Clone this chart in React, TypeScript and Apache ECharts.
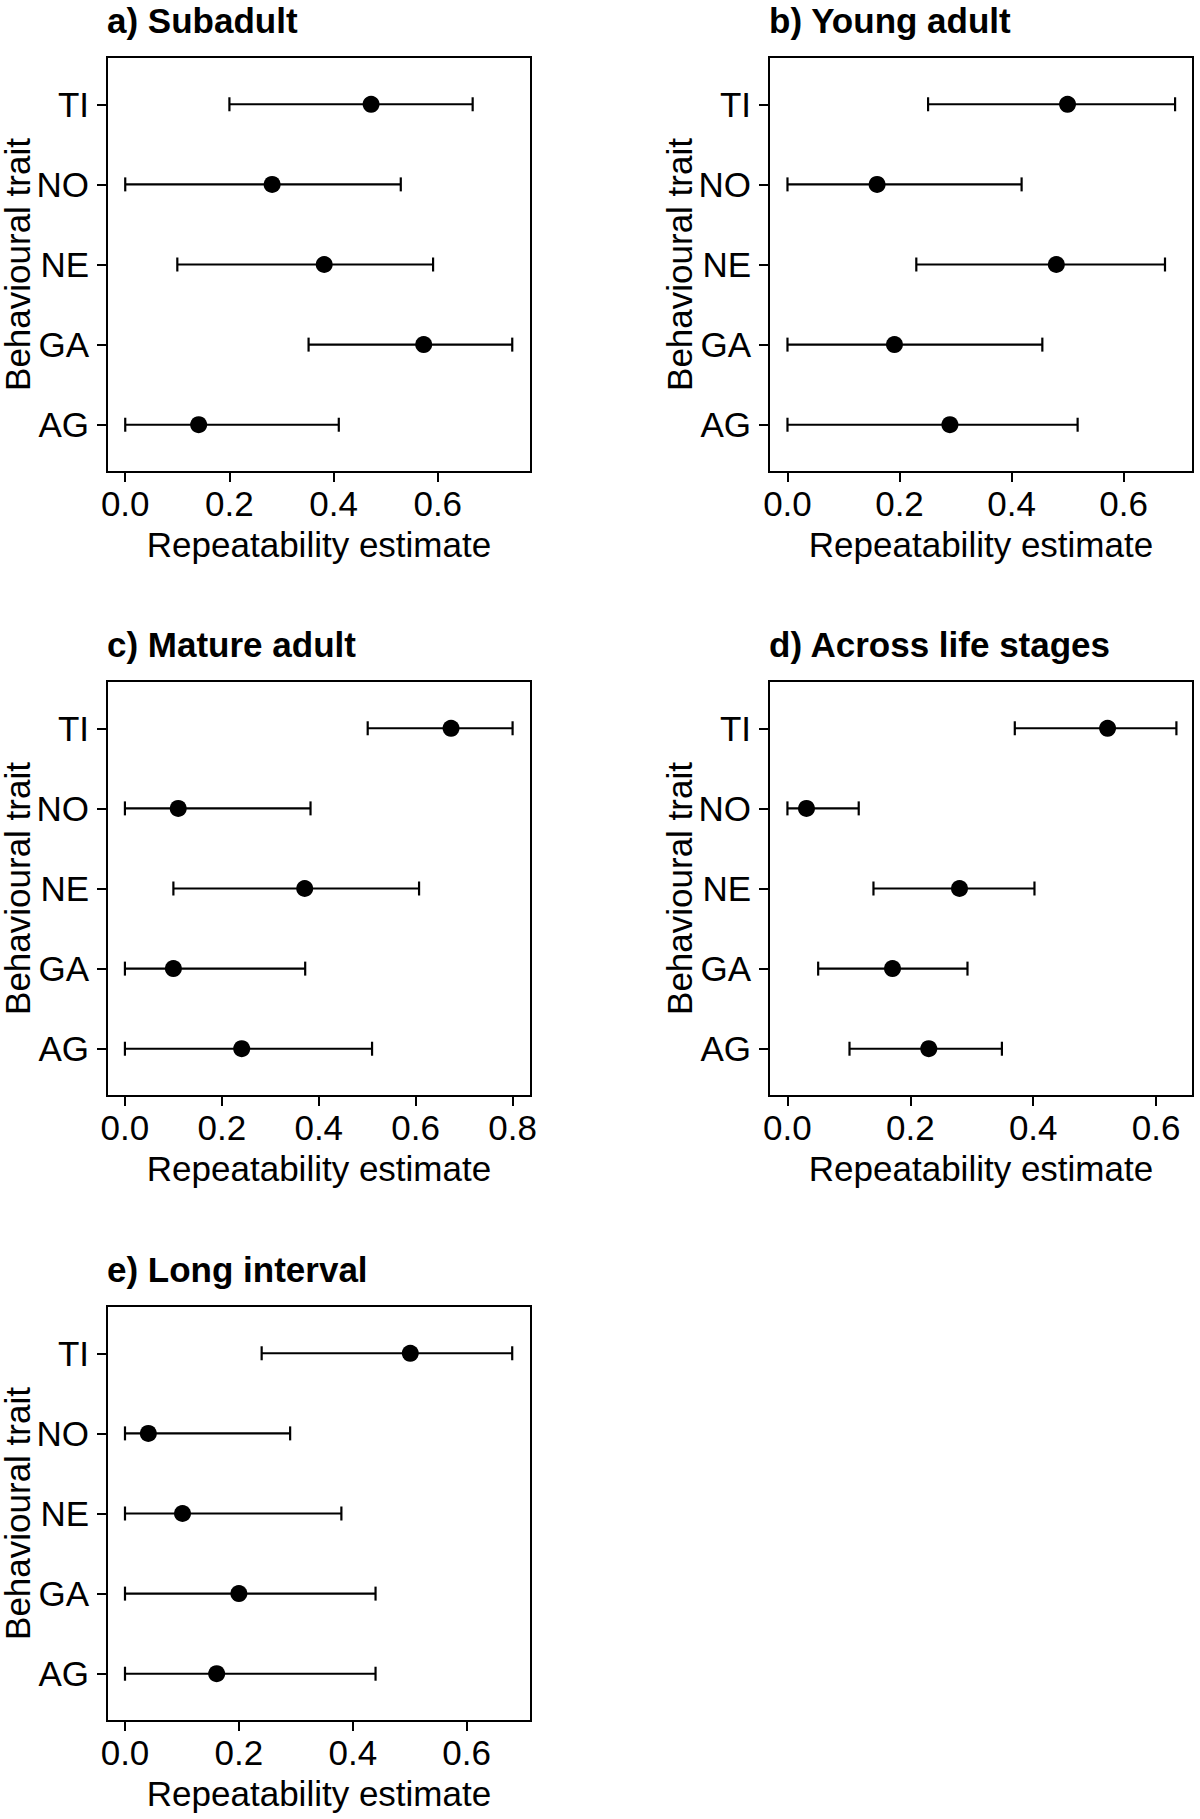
import React, { useEffect, useRef } from "react";
import * as echarts from "echarts";

// Traits from bottom (row 1) to top (row 5)
const TRAITS = ["AG", "GA", "NE", "NO", "TI"];
const TRAIT_ROWS = [1, 2, 3, 4, 5];

const PANEL_TITLES = [
  "a) Subadult",
  "b) Young adult",
  "c) Mature adult",
  "d) Across life stages",
  "e) Long interval",
];

// Repeatability estimates and 95% CI bounds, order = TRAITS
const SUBADULT_EST = [0.141, 0.573, 0.382, 0.282, 0.472];
const SUBADULT_LOW = [0.0, 0.352, 0.1, 0.0, 0.2];
const SUBADULT_HIGH = [0.41, 0.743, 0.591, 0.529, 0.667];

const YOUNG_EST = [0.29, 0.191, 0.48, 0.16, 0.5];
const YOUNG_LOW = [0.0, 0.0, 0.23, 0.0, 0.251];
const YOUNG_HIGH = [0.518, 0.455, 0.674, 0.418, 0.692];

const MATURE_EST = [0.241, 0.1, 0.371, 0.11, 0.673];
const MATURE_LOW = [0.0, 0.0, 0.1, 0.0, 0.501];
const MATURE_HIGH = [0.51, 0.372, 0.607, 0.383, 0.8];

const ACROSS_EST = [0.23, 0.171, 0.28, 0.031, 0.521];
const ACROSS_LOW = [0.101, 0.05, 0.14, 0.0, 0.37];
const ACROSS_HIGH = [0.349, 0.293, 0.402, 0.116, 0.633];

const LONG_EST = [0.161, 0.2, 0.101, 0.041, 0.501];
const LONG_LOW = [0.0, 0.0, 0.0, 0.0, 0.24];
const LONG_HIGH = [0.44, 0.44, 0.38, 0.29, 0.68];

const X_TICKS_06 = [0, 0.2, 0.4, 0.6];
const X_TICKS_08 = [0, 0.2, 0.4, 0.6, 0.8];

const X_TITLE = "Repeatability estimate";
const Y_TITLE = "Behavioural trait";

const FONT = "'Liberation Sans', Arial, Helvetica, sans-serif";

const PANELS = [
  { title: PANEL_TITLES[0], est: SUBADULT_EST, low: SUBADULT_LOW, high: SUBADULT_HIGH, ticks: X_TICKS_06, xMin: -0.035, xMax: 0.779, left: 107, top: 57 },
  { title: PANEL_TITLES[1], est: YOUNG_EST, low: YOUNG_LOW, high: YOUNG_HIGH, ticks: X_TICKS_06, xMin: -0.033, xMax: 0.724, left: 769, top: 57 },
  { title: PANEL_TITLES[2], est: MATURE_EST, low: MATURE_LOW, high: MATURE_HIGH, ticks: X_TICKS_08, xMin: -0.037, xMax: 0.838, left: 107, top: 681 },
  { title: PANEL_TITLES[3], est: ACROSS_EST, low: ACROSS_LOW, high: ACROSS_HIGH, ticks: X_TICKS_06, xMin: -0.030, xMax: 0.660, left: 769, top: 681 },
  { title: PANEL_TITLES[4], est: LONG_EST, low: LONG_LOW, high: LONG_HIGH, ticks: X_TICKS_06, xMin: -0.0316, xMax: 0.713, left: 107, top: 1306 },
];

const PW = 424;
const PH = 415;

function buildOption() {
  const title: any[] = [];
  const grid: any[] = [];
  const xAxis: any[] = [];
  const yAxis: any[] = [];
  const series: any[] = [];

  PANELS.forEach((p, i) => {
    title.push({
      text: p.title,
      left: p.left,
      top: p.top - 54,
      padding: 0,
      textStyle: { fontSize: 35, fontWeight: "bold", fontFamily: FONT, color: "#000" },
    });
    grid.push({
      left: p.left,
      top: p.top,
      width: PW,
      height: PH,
      show: true,
      borderColor: "#000",
      borderWidth: 2,
      backgroundColor: "transparent",
      containLabel: false,
      outerBoundsMode: "none",
    });
    xAxis.push({
      type: "value",
      gridIndex: i,
      min: p.xMin,
      max: p.xMax,
      axisLine: { show: false, onZero: false },
      splitLine: { show: false },
      axisTick: {
        show: true,
        inside: false,
        length: 10,
        lineStyle: { color: "#000", width: 2 },
        customValues: p.ticks,
      },
      axisLabel: {
        customValues: p.ticks,
        formatter: (v: number) => v.toFixed(1),
        fontSize: 35,
        color: "#000",
        fontFamily: FONT,
        margin: 14,
      },
      name: X_TITLE,
      nameLocation: "middle",
      nameGap: 55,
      nameMoveOverlap: false,
      nameTextStyle: { fontSize: 35, color: "#000", fontFamily: FONT },
    });
    yAxis.push({
      type: "value",
      gridIndex: i,
      min: 0.41,
      max: 5.59,
      axisLine: { show: false, onZero: false },
      splitLine: { show: false },
      axisTick: {
        show: true,
        inside: false,
        length: 10,
        lineStyle: { color: "#000", width: 2 },
        customValues: TRAIT_ROWS,
      },
      axisLabel: {
        customValues: TRAIT_ROWS,
        formatter: (v: number) => TRAITS[Math.round(v) - 1] ?? "",
        fontSize: 35,
        color: "#000",
        fontFamily: FONT,
        margin: 18,
      },
      name: Y_TITLE,
      nameLocation: "middle",
      nameRotate: 90,
      nameGap: 77,
      nameMoveOverlap: false,
      nameTextStyle: { fontSize: 35, lineHeight: 26, color: "#000", fontFamily: FONT },
    });
    series.push({
      type: "custom",
      xAxisIndex: i,
      yAxisIndex: i,
      data: p.low.map((l, j) => [l, p.high[j], TRAIT_ROWS[j]]),
      encode: { x: [0, 1], y: 2 },
      renderItem: (params: any, api: any) => {
        const row = api.value(2);
        const a = api.coord([api.value(0), row]);
        const b = api.coord([api.value(1), row]);
        const cap = 7;
        const style = { stroke: "#000", lineWidth: 2.2 };
        return {
          type: "group",
          children: [
            { type: "line", shape: { x1: a[0], y1: a[1], x2: b[0], y2: b[1] }, style },
            { type: "line", shape: { x1: a[0], y1: a[1] - cap, x2: a[0], y2: a[1] + cap }, style },
            { type: "line", shape: { x1: b[0], y1: b[1] - cap, x2: b[0], y2: b[1] + cap }, style },
          ],
        };
      },
      z: 2,
    });
    series.push({
      type: "scatter",
      xAxisIndex: i,
      yAxisIndex: i,
      data: p.est.map((e, j) => [e, TRAIT_ROWS[j]]),
      symbol: "circle",
      symbolSize: 17,
      itemStyle: { color: "#000", opacity: 1 },
      z: 3,
    });
  });

  return {
    animation: false,
    backgroundColor: "#fff",
    title,
    grid,
    xAxis,
    yAxis,
    series,
  };
}

export default function App() {
  const ref = useRef<HTMLDivElement>(null);
  useEffect(() => {
    if (!ref.current) return;
    const chart = echarts.init(ref.current, null, { renderer: "svg" });
    chart.setOption(buildOption() as any);
    return () => chart.dispose();
  }, []);
  return (
    <div
      ref={ref}
      style={{ position: "absolute", left: 0, top: 0, width: 1200, height: 1819, background: "#fff" }}
    />
  );
}
